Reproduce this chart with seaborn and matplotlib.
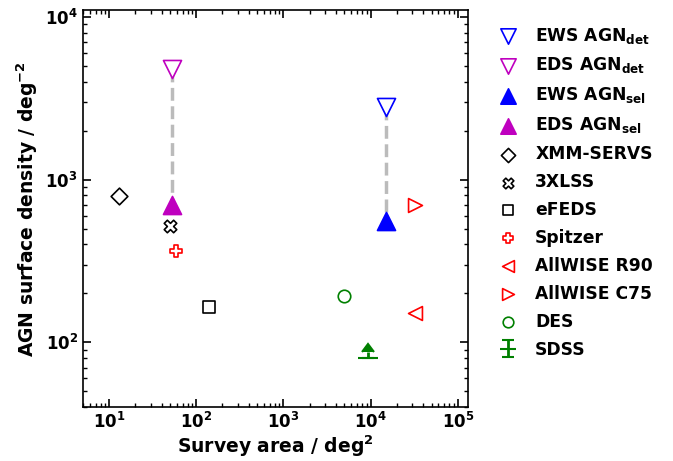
import matplotlib
matplotlib.use('Agg')
import matplotlib.pyplot as plt
import seaborn as sns
import pandas as pd

sns.set_style('ticks')
plt.rcParams['font.family'] = ['DejaVu Sans']
plt.rcParams['font.weight'] = 'bold'
plt.rcParams['mathtext.default'] = 'bf'
plt.rcParams['axes.labelweight'] = 'bold'
for k in ['text.color', 'axes.labelcolor', 'xtick.color', 'ytick.color', 'axes.edgecolor']:
    plt.rcParams[k] = 'black'

# survey area (deg^2), AGN surface density (deg^-2)
names = ['EWS AGN$_\\mathbf{det}$', 'EDS AGN$_\\mathbf{det}$', 'EWS AGN$_\\mathbf{sel}$', 'EDS AGN$_\\mathbf{sel}$',
         'XMM-SERVS', '3XLSS', 'eFEDS', 'Spitzer', 'AllWISE R90', 'AllWISE C75', 'DES']
area = [15000, 53, 15000, 53, 13, 50, 140, 58, 32000, 32000, 5000]
density = [2800, 4800, 560, 700, 790, 520, 165, 365, 151, 700, 192]
markers = ['v', 'v', '^', '^', 'D', 'X', 's', 'P', '<', '>', 'o']
colors = ['blue', 'm', 'blue', 'm', 'black', 'black', 'black', 'red', 'red', 'red', 'green']
filled = [False, False, True, True, False, False, False, False, False, False, False]
msize = [13, 13, 13, 13, 8.5, 9, 9, 9, 10, 10, 9]

sdss_area = 9376
sdss_density = 80

fig, ax = plt.subplots(figsize=(6.73, 4.61), dpi=100)
fig.subplots_adjust(left=0.123, right=0.695, bottom=0.117, top=0.978)

# dashed lines between detected and selected
ax.plot([area[0], area[2]], [density[0], density[2]], ls='--', color='#bbbbbb', lw=2.5, zorder=1)
ax.plot([area[1], area[3]], [density[1], density[3]], ls='--', color='#bbbbbb', lw=2.5, zorder=1)

for i in range(len(names)):
    df = pd.DataFrame({'area': [area[i]], 'density': [density[i]]})
    fc = colors[i] if filled[i] else 'white'
    sns.scatterplot(data=df, x='area', y='density', marker=markers[i], s=msize[i]**2,
                    color=fc, edgecolor=colors[i], linewidth=1.2, label=names[i], ax=ax, zorder=3)

ax.errorbar(sdss_area, sdss_density, yerr=[[0], [7]], lolims=True, fmt='_', ms=14, mew=1.5,
            capsize=4, elinewidth=2, color='green', label='SDSS', zorder=3)

ax.set_xscale('log')
ax.set_yscale('log')
ax.set_xlim(5, 1.3e5)
ax.set_ylim(40, 1.1e4)
ax.set_xlabel('Survey area / deg$^2$', fontsize=13.5, labelpad=1)
ax.set_ylabel('AGN surface density / deg$^{-2}$', fontsize=13.5)
ax.tick_params(which='both', direction='in', top=True, right=True, labelsize=12)
ax.tick_params(which='major', length=6, width=1.2)
ax.tick_params(which='minor', length=3, width=1)
for sp in ax.spines.values():
    sp.set_linewidth(1.2)

ax.legend(loc='upper left', bbox_to_anchor=(1.02, 1.0), frameon=False, markerscale=0.85,
          labelspacing=0.58, handletextpad=0.6, prop={'weight': 'bold', 'size': 12.3})

fig.savefig('out.png', dpi=100)
